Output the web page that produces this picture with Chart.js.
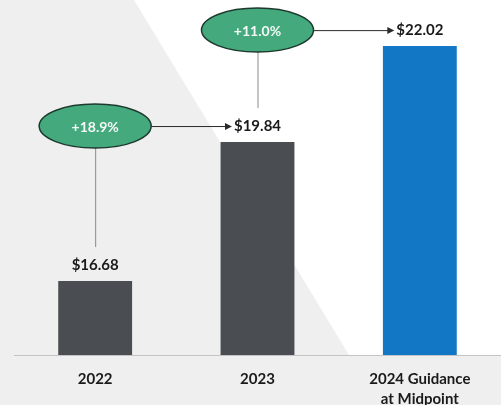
<!DOCTYPE html>
<html>
<head>
<meta charset="utf-8">
<script src="https://cdn.jsdelivr.net/npm/chart.js@4/dist/chart.umd.min.js"></script>
<style>
html,body{margin:0;padding:0;background:#eeeeee;}
#wrap{position:relative;width:501px;height:405px;}
</style>
</head>
<body>
<div id="wrap"><canvas id="c" width="501" height="405"></canvas></div>
<script>
const categories = [['2022'], ['2023'], ['2024 Guidance', 'at Midpoint']];
const values = [16.68, 19.84, 22.02];
const valueLabels = ['$16.68', '$19.84', '$22.02'];
const growthLabels = ['+18.9%', '+11.0%'];
const barColors = ['#4a4d52', '#4a4d52', '#1278c6'];

const FONT = 'Lato, "Open Sans", sans-serif';

const bgPlugin = {
  id: 'bg',
  beforeDraw(chart) {
    const ctx = chart.ctx;
    const area = chart.chartArea;
    ctx.save();
    ctx.fillStyle = '#efefef';
    ctx.fillRect(0, 0, chart.width, chart.height);
    ctx.fillStyle = '#ffffff';
    ctx.beginPath();
    ctx.moveTo(134, 0);
    ctx.lineTo(chart.width, 0);
    ctx.lineTo(chart.width, area.bottom);
    ctx.lineTo(349, area.bottom);
    ctx.closePath();
    ctx.fill();
    ctx.restore();
  }
};

const annoPlugin = {
  id: 'anno',
  afterDatasetsDraw(chart) {
    const ctx = chart.ctx;
    const meta = chart.getDatasetMeta(0);
    const labelY = meta.data.map(b => b.y - 16);
    ctx.save();
    ctx.font = 'bold 15px ' + FONT;
    const widths = valueLabels.map(t => ctx.measureText(t).width);
    ctx.fillStyle = '#1a1a1a';
    ctx.textAlign = 'center';
    ctx.textBaseline = 'middle';
    meta.data.forEach((b, i) => ctx.fillText(valueLabels[i], b.x, labelY[i]));

    const rx = 56, ry = 22;
    growthLabels.forEach((g, i) => {
      const cx = meta.data[i].x;
      const cy = labelY[i + 1];
      ctx.strokeStyle = '#8a8a8a';
      ctx.lineWidth = 1;
      ctx.beginPath();
      ctx.moveTo(cx + 0.5, cy + ry);
      ctx.lineTo(cx + 0.5, labelY[i] - 18);
      ctx.stroke();
      const x0 = cx + rx;
      const x1 = meta.data[i + 1].x - widths[i + 1] / 2 - 2;
      ctx.strokeStyle = '#2a2a2a';
      ctx.beginPath();
      ctx.moveTo(x0, cy + 0.5);
      ctx.lineTo(x1 - 5, cy + 0.5);
      ctx.stroke();
      ctx.fillStyle = '#2a2a2a';
      ctx.beginPath();
      ctx.moveTo(x1, cy + 0.5);
      ctx.lineTo(x1 - 7, cy - 3);
      ctx.lineTo(x1 - 7, cy + 4);
      ctx.closePath();
      ctx.fill();
      ctx.beginPath();
      ctx.ellipse(cx, cy, rx, ry, 0, 0, Math.PI * 2);
      ctx.fillStyle = '#44a97d';
      ctx.fill();
      ctx.lineWidth = 1.5;
      ctx.strokeStyle = '#1d3a2e';
      ctx.stroke();
      ctx.fillStyle = '#f4f8f6';
      ctx.font = 'bold 14px ' + FONT;
      ctx.fillText(g, cx, cy + 1);
      ctx.font = 'bold 15px ' + FONT;
    });
    ctx.restore();
  }
};

new Chart(document.getElementById('c'), {
  type: 'bar',
  data: {
    labels: categories,
    datasets: [{
      data: values,
      backgroundColor: barColors,
      borderWidth: 0,
      barPercentage: 1,
      categoryPercentage: 0.455
    }]
  },
  options: {
    responsive: false,
    animation: false,
    devicePixelRatio: 1,
    layout: { padding: { top: 3, left: 14, right: 0, bottom: 0 } },
    plugins: { legend: { display: false }, tooltip: { enabled: false } },
    scales: {
      y: { display: false, min: 15, max: 23 },
      x: {
        grid: { display: false },
        border: { display: true, color: '#c4c4c4', width: 1 },
        ticks: {
          color: '#1a1a1a',
          font: { family: FONT, size: 15, weight: 'bold', lineHeight: 1.33 },
          padding: 6,
          maxRotation: 0
        },
        afterFit(scale) { scale.height = 50; }
      }
    }
  },
  plugins: [bgPlugin, annoPlugin]
});
</script>
</body>
</html>
